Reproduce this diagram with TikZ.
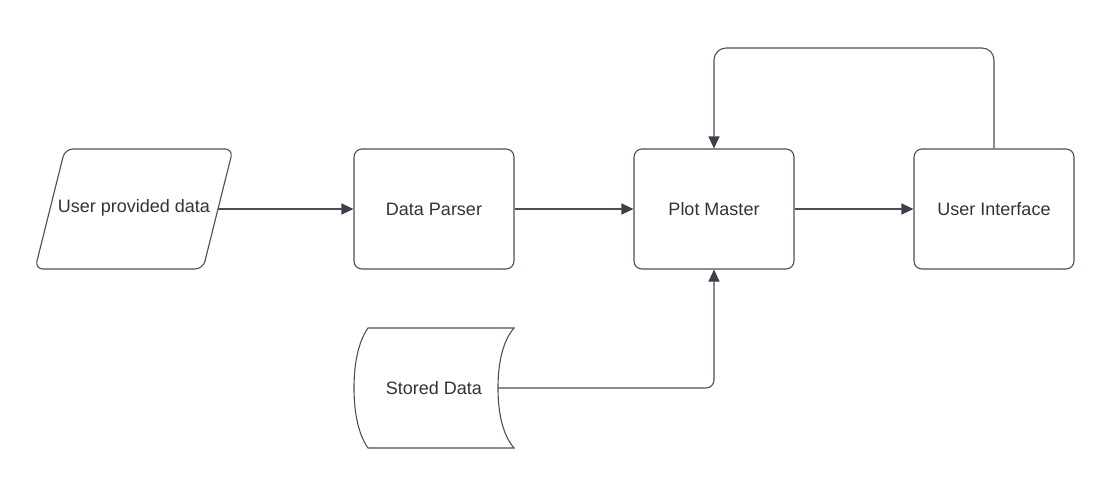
\documentclass[tikz,border=0pt]{standalone}
\usepackage{fontspec}
\setmainfont{Liberation Sans}
\usetikzlibrary{arrows.meta}
\definecolor{ln}{HTML}{4A5058}
\definecolor{tip}{HTML}{3A414A}
\definecolor{txt}{HTML}{333333}
\tikzset{
  box/.style={draw=ln, line width=1.1pt, rounded corners=8pt, minimum width=160pt, minimum height=120pt, inner sep=0pt, text=txt, font=\fontsize{18}{21}\selectfont},
  lbl/.style={text=txt, font=\fontsize{18}{21}\selectfont, inner sep=0pt},
  shp/.style={draw=ln, line width=1.1pt},
  conn/.style={draw=ln, line width=1.1pt, rounded corners=8pt, -{Triangle[length=12pt,width=11pt,fill=tip,color=tip]}}
}
\begin{document}
\begin{tikzpicture}[x=1pt,y=-1pt]
\useasboundingbox (0,0) rectangle (1111,491);
% parallelogram
\draw[shp, rounded corners=8pt] (65,149) -- (233,149) -- (203,269) -- (35,269) -- cycle;
\node[lbl] (upd) at (134,208) {User provided data};
\coordinate (updR) at (218,209);
% boxes
\node[box] (dp) at (434,209) {Data Parser};
\node[box] (pm) at (714,209) {Plot Master};
\node[box] (ui) at (994,209) {User Interface};
% stored data
\draw[shp] (368,328) -- (514,328)
  .. controls (502,342) and (498,365) .. (498,388)
  .. controls (498,411) and (502,434) .. (514,448)
  -- (368,448)
  .. controls (358,434) and (354,411) .. (354,388)
  .. controls (354,365) and (358,342) .. (368,328) -- cycle;
\node[lbl] (sd) at (434,388) {Stored Data};
\coordinate (sdR) at (498,388);
% connectors
\draw[conn] (updR) -- (dp.west);
\draw[conn] (dp.east) -- (pm.west);
\draw[conn] (pm.east) -- (ui.west);
\draw[conn] (sdR) -| (pm.south);
\coordinate (loopR) at (994,48);
\coordinate (loopL) at (714,48);
\draw[conn, rounded corners=12pt] (ui.north) -- (loopR) -- (loopL) -- (pm.north);
\end{tikzpicture}
\end{document}
